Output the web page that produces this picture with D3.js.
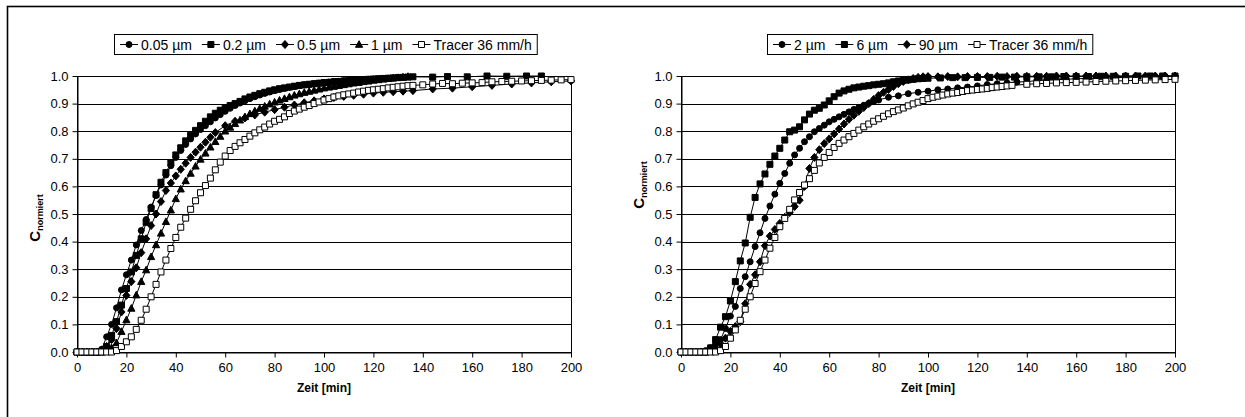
<!DOCTYPE html>
<html><head><meta charset="utf-8">
<script src="https://cdn.jsdelivr.net/npm/d3@7"></script>
<style>body{margin:0;background:#fff} svg text{font-family:"Liberation Sans",Arial,sans-serif;fill:#000}</style>
</head><body><svg id="c" width="1245" height="417"></svg>
<script>
// ---------- data (time in min, normalised concentration) ----------
const xTicks = [0,20,40,60,80,100,120,140,160,180,200];
const yTicks = [0,0.1,0.2,0.3,0.4,0.5,0.6,0.7,0.8,0.9,1.0];
const legendLeft = ["0.05 µm","0.2 µm","0.5 µm","1 µm","Tracer 36 mm/h"];
const legendRight = ["2 µm","6 µm","90 µm","Tracer 36 mm/h"];
const xTitle = "Zeit [min]";

const tracerL = [[0,0],[2,0],[4,0],[6,0],[8,0],[10,0],[12,0],[14,0],[16,0.005],[18,0.02],[20,0.037],[22,0.055],[24,0.082],[26,0.115],[28,0.155],[30,0.2],[32,0.245],[34,0.29],[36,0.333],[38,0.375],[40,0.415],[42,0.452],[44,0.485],[46,0.517],[48,0.548],[50,0.577],[52,0.603],[54,0.63],[56,0.66],[58,0.688],[60,0.71],[62,0.73],[64,0.745],[66,0.758],[68,0.77],[70,0.782],[72,0.794],[74,0.805],[76,0.815],[78,0.826],[80,0.836],[82,0.843],[84,0.852],[86,0.864],[88,0.873],[90,0.88],[92,0.887],[94,0.893],[96,0.9],[98,0.906],[100,0.913],[102,0.918],[104,0.924],[106,0.928],[108,0.932],[110,0.935],[112,0.938],[114,0.942],[116,0.945],[118,0.948],[120,0.95],[122,0.952],[124,0.954],[126,0.957],[128,0.959],[130,0.961],[132,0.963],[134,0.965],[136,0.966],[140,0.968],[144,0.971],[148,0.973],[152,0.972],[156,0.974],[160,0.975],[164,0.976],[168,0.979],[172,0.98],[176,0.981],[180,0.982],[184,0.983],[188,0.984],[192,0.985],[196,0.986],[200,0.987]];

const p005 = [[0,0],[2,0],[4,0],[6,0],[8,0],[10,0.01],[12,0.055],[14,0.1],[16,0.16],[18,0.225],[20,0.28],[22,0.333],[24,0.388],[26,0.44],[28,0.48],[30,0.525],[32,0.567],[34,0.605],[36,0.641],[38,0.675],[40,0.705],[42,0.73],[44,0.752],[46,0.772],[48,0.79],[50,0.806],[52,0.82],[54,0.834],[56,0.848],[58,0.86],[60,0.872],[62,0.883],[64,0.893],[66,0.902],[68,0.91],[70,0.918],[72,0.925],[74,0.931],[76,0.937],[78,0.942],[80,0.947],[82,0.951],[84,0.955],[86,0.959],[88,0.962],[90,0.965],[92,0.968],[94,0.97],[96,0.972],[98,0.974],[100,0.976],[102,0.978],[104,0.98],[106,0.981],[108,0.983],[110,0.984],[112,0.985],[114,0.986],[116,0.987],[118,0.988],[120,0.989],[122,0.99],[124,0.991],[126,0.992],[128,0.993],[130,0.994]];

const p02 = [[0,0],[2,0],[4,0],[6,0],[8,0],[10,0],[12,0.02],[14,0.06],[16,0.11],[18,0.17],[20,0.23],[22,0.29],[24,0.35],[26,0.41],[28,0.47],[30,0.52],[32,0.57],[34,0.615],[36,0.65],[38,0.685],[40,0.714],[42,0.74],[44,0.765],[46,0.785],[48,0.803],[50,0.82],[52,0.836],[54,0.852],[56,0.865],[58,0.876],[60,0.885],[62,0.893],[64,0.9],[66,0.908],[68,0.917],[70,0.924],[72,0.93],[74,0.936],[76,0.941],[78,0.946],[80,0.95],[82,0.954],[84,0.957],[86,0.96],[88,0.963],[90,0.966],[92,0.968],[94,0.97],[96,0.972],[98,0.974],[100,0.976],[102,0.977],[104,0.979],[106,0.98],[108,0.982],[110,0.983],[112,0.985],[114,0.986],[116,0.987],[118,0.988],[120,0.989],[122,0.99],[124,0.991],[126,0.992],[128,0.993],[130,0.994],[132,0.995],[134,0.996],[136,0.997],[144,0.996],[150,0.998],[158,0.997],[166,1.0],[174,0.999],[182,1.0],[188,1.0]];

const p05 = [[0,0],[2,0],[4,0],[6,0],[8,0],[10,0.005],[12,0.02],[14,0.045],[16,0.085],[18,0.145],[20,0.205],[22,0.255],[24,0.305],[26,0.36],[28,0.41],[30,0.458],[32,0.5],[34,0.545],[36,0.585],[38,0.612],[40,0.638],[42,0.662],[44,0.684],[46,0.705],[48,0.724],[50,0.742],[52,0.76],[54,0.778],[56,0.795],[60,0.82],[64,0.836],[68,0.848],[72,0.859],[76,0.869],[80,0.878],[84,0.887],[88,0.895],[92,0.903],[96,0.91],[100,0.917],[104,0.922],[108,0.926],[112,0.93],[116,0.934],[120,0.938],[124,0.941],[128,0.943],[132,0.945],[136,0.947],[144,0.953],[152,0.956],[160,0.961],[168,0.966],[176,0.971],[184,0.975],[192,0.979],[200,0.982]];

const p1 = [[0,0],[2,0],[4,0],[6,0],[8,0],[10,0],[12,0.005],[14,0.015],[16,0.033],[18,0.074],[20,0.116],[22,0.158],[24,0.206],[26,0.255],[28,0.297],[30,0.345],[32,0.388],[34,0.43],[36,0.472],[38,0.514],[40,0.555],[42,0.59],[44,0.62],[46,0.647],[48,0.673],[50,0.698],[52,0.72],[54,0.742],[56,0.762],[58,0.781],[60,0.8],[62,0.814],[64,0.827],[66,0.84],[68,0.852],[70,0.863],[72,0.873],[74,0.882],[76,0.89],[78,0.898],[80,0.905],[82,0.912],[84,0.918],[86,0.924],[88,0.93],[90,0.935],[92,0.94],[94,0.944],[96,0.948],[98,0.952],[100,0.956],[102,0.959],[104,0.962],[106,0.965],[108,0.968],[110,0.971],[112,0.974],[114,0.976],[116,0.979],[118,0.981],[120,0.984],[122,0.986],[124,0.988],[126,0.99],[128,0.992],[130,0.994],[132,0.996],[134,0.998]];

const tracerR = [[0,0],[2,0],[4,0],[6,0],[8,0],[10,0],[12,0],[14,0],[16,0.005],[18,0.02],[20,0.05],[22,0.08],[24,0.115],[26,0.155],[28,0.2],[30,0.248],[32,0.291],[34,0.333],[36,0.376],[38,0.415],[40,0.454],[42,0.484],[44,0.517],[46,0.551],[48,0.578],[50,0.605],[52,0.628],[54,0.658],[56,0.685],[58,0.705],[60,0.723],[62,0.741],[64,0.756],[66,0.768],[68,0.78],[70,0.792],[72,0.804],[74,0.816],[76,0.826],[78,0.836],[80,0.845],[82,0.854],[84,0.863],[86,0.871],[88,0.877],[90,0.884],[92,0.892],[94,0.899],[96,0.905],[98,0.911],[100,0.918],[102,0.923],[104,0.927],[106,0.931],[108,0.935],[110,0.938],[112,0.94],[114,0.944],[116,0.947],[118,0.949],[120,0.951],[122,0.953],[124,0.955],[126,0.958],[128,0.96],[130,0.962],[132,0.964],[134,0.966],[140,0.97],[144,0.972],[148,0.973],[152,0.975],[156,0.976],[160,0.977],[164,0.978],[168,0.98],[172,0.981],[176,0.982],[180,0.983],[184,0.984],[188,0.985],[192,0.986],[196,0.987],[200,0.988]];

const p2 = [[0,0],[2,0],[4,0],[6,0],[8,0],[10,0.005],[12,0.015],[14,0.03],[16,0.045],[18,0.085],[20,0.13],[22,0.165],[24,0.23],[26,0.273],[28,0.327],[30,0.382],[32,0.432],[34,0.484],[36,0.529],[38,0.572],[40,0.611],[42,0.647],[44,0.684],[46,0.714],[48,0.738],[50,0.762],[52,0.78],[54,0.798],[56,0.81],[58,0.822],[60,0.834],[62,0.843],[64,0.852],[66,0.861],[68,0.87],[70,0.879],[72,0.886],[74,0.894],[76,0.901],[78,0.907],[80,0.913],[84,0.923],[88,0.928],[92,0.936],[96,0.941],[100,0.945],[104,0.95],[108,0.953],[112,0.957],[116,0.96],[120,0.964],[124,0.969],[128,0.972],[132,0.975],[136,0.978],[140,0.98],[144,0.983],[148,0.985],[152,0.987],[156,0.988],[160,0.99],[164,0.991],[168,0.992],[172,0.993],[176,0.994],[180,0.995],[184,0.996],[188,0.997],[192,0.998],[196,0.999],[200,1.0]];

const p6 = [[0,0],[2,0],[4,0],[6,0],[8,0],[10,0],[12,0.015],[14,0.045],[16,0.09],[18,0.128],[20,0.185],[22,0.255],[24,0.33],[26,0.395],[28,0.488],[30,0.56],[32,0.609],[34,0.645],[36,0.68],[38,0.71],[40,0.738],[42,0.768],[44,0.798],[46,0.804],[48,0.816],[50,0.841],[52,0.862],[54,0.876],[56,0.883],[58,0.895],[60,0.91],[62,0.925],[64,0.938],[66,0.946],[68,0.952],[70,0.957],[72,0.96],[74,0.963],[76,0.965],[78,0.968],[80,0.97],[82,0.972],[84,0.975],[86,0.979],[88,0.982],[90,0.984],[92,0.986],[94,0.988],[96,0.99],[98,0.991],[100,0.992],[105,0.993],[110,0.994],[115,0.994],[120,0.995],[125,0.995],[130,0.996],[135,0.996],[140,0.997],[145,0.997],[150,0.997],[155,0.998],[160,0.998],[165,0.998],[170,0.999],[175,0.999],[180,0.999],[185,1.0],[190,1.0],[195,1.0],[200,1.0]];

const p90 = [[0,0],[2,0],[4,0],[6,0],[8,0],[10,0],[12,0.005],[14,0.015],[16,0.03],[18,0.05],[20,0.075],[22,0.092],[24,0.11],[26,0.175],[28,0.245],[30,0.28],[32,0.327],[34,0.385],[36,0.42],[38,0.444],[40,0.466],[42,0.488],[44,0.505],[46,0.527],[48,0.55],[50,0.6],[52,0.665],[54,0.705],[56,0.733],[58,0.755],[60,0.772],[62,0.79],[64,0.808],[66,0.826],[68,0.843],[70,0.858],[72,0.872],[74,0.886],[76,0.9],[78,0.915],[80,0.929],[82,0.941],[84,0.951],[86,0.962],[88,0.972],[90,0.98],[92,0.986],[94,0.991],[96,0.995],[98,0.997],[100,0.998],[104,0.997],[108,0.998],[112,0.997],[116,0.998],[120,0.998],[124,0.998],[128,0.999],[132,0.998],[136,0.999],[140,0.999],[144,0.999],[148,0.999],[152,1.0],[156,1.0],[160,1.0],[164,1.0],[168,1.0],[172,1.0],[176,1.0],[180,1.0],[184,1.0],[188,1.0],[192,1.0],[196,1.0],[200,1.0]];

// ---------- drawing ----------
const svg = d3.select("#c");
svg.append("rect").attr("x",7.5).attr("y",6.5).attr("width",1400).attr("height",600)
  .attr("fill","none").attr("stroke","#000").attr("stroke-width",1.6);

function markerPath(type){
  const p = d3.path();
  if(type==="circle"){ p.arc(0,0,3,0,2*Math.PI); }
  else if(type==="square"||type==="open"){ p.rect(-3,-3,6,6); }
  else if(type==="diamond"){ p.moveTo(0,-4); p.lineTo(3.6,0); p.lineTo(0,4); p.lineTo(-3.6,0); p.closePath(); }
  else if(type==="triangle"){ p.moveTo(0,-3.8); p.lineTo(3.6,2.8); p.lineTo(-3.6,2.8); p.closePath(); }
  return p.toString();
}
function styleMarker(sel,type){
  sel.attr("d",markerPath(type))
     .attr("fill", type==="open" ? "#fff" : "#000")
     .attr("stroke","#000").attr("stroke-width",1);
}

function drawChart(cfg){
  const g = svg.append("g");
  const x = d3.scaleLinear().domain([0,200]).range([cfg.x0,cfg.x1]);
  const y = d3.scaleLinear().domain([0,1]).range([352,76]);
  // gridlines
  g.append("g").selectAll("line").data(yTicks).join("line")
    .attr("x1",cfg.x0).attr("x2",cfg.x1)
    .attr("y1",d=>Math.round(y(d))+0.5).attr("y2",d=>Math.round(y(d))+0.5)
    .attr("stroke","#000").attr("stroke-width",1);
  // plot border
  g.append("rect").attr("x",cfg.x0+0.5).attr("y",Math.round(y(1))+0.5)
    .attr("width",cfg.x1-cfg.x0).attr("height",Math.round(y(0))-Math.round(y(1)))
    .attr("fill","none").attr("stroke","#000");
  // axes
  const ax = g.append("g").attr("transform",`translate(0,${Math.round(y(0))+0.5})`)
    .call(d3.axisBottom(x).tickValues(xTicks).tickFormat(d3.format("d")).tickSizeInner(5).tickSizeOuter(0).tickPadding(5));
  const ay = g.append("g").attr("transform",`translate(${cfg.x0+0.5},0)`)
    .call(d3.axisLeft(y).tickValues(yTicks).tickFormat(d3.format(".1f")).tickSizeInner(5).tickSizeOuter(0).tickPadding(4));
  [ax,ay].forEach(a=>{
    a.selectAll("path,line").attr("stroke","#000");
    a.selectAll("text").attr("font-size",13).attr("font-family","Liberation Sans, Arial, sans-serif").attr("fill","#000");
  });
  // titles
  g.append("text").attr("x",(cfg.x0+cfg.x1)/2).attr("y",392).attr("text-anchor","middle")
    .attr("font-size",12).attr("font-weight","bold").text(xTitle);
  const yt = g.append("text").attr("transform",`translate(${cfg.ytx},${cfg.yty}) rotate(-90)`)
    .attr("text-anchor","middle").attr("font-weight","bold");
  yt.append("tspan").attr("font-size",15).text("C");
  yt.append("tspan").attr("font-size",9).attr("dy",3).text("normiert");
  // series
  const line = d3.line().x(d=>x(d[0])).y(d=>y(d[1]));
  cfg.series.forEach(s=>{
    const sg = g.append("g");
    sg.append("path").datum(s.data).attr("d",line).attr("fill","none").attr("stroke","#000").attr("stroke-width",1);
    sg.selectAll("path.m").data(s.data).join("path").attr("class","m")
      .attr("transform",d=>`translate(${x(d[0])},${y(d[1])})`)
      .call(styleMarker,s.type);
  });
  // legend
  const lg = g.append("g");
  const box = lg.append("rect").attr("y",34.5).attr("height",20).attr("fill","#fff").attr("stroke","#000");
  let cx = cfg.lx + 6;
  cfg.series.forEach((s,i)=>{
    lg.append("line").attr("x1",cx).attr("x2",cx+18).attr("y1",44.5).attr("y2",44.5).attr("stroke","#000");
    lg.append("path").attr("transform",`translate(${cx+9},44.5)`).call(styleMarker,s.type);
    const t = lg.append("text").attr("x",cx+21).attr("y",49.5).attr("font-size",14).text(cfg.labels[i]);
    cx += 21 + t.node().getComputedTextLength() + 10;
  });
  box.attr("x",cfg.lx+0.5).attr("width",cx - 10 + 5 - cfg.lx);
}

drawChart({x0:77,x1:571,lx:114,ytx:40,yty:218,labels:legendLeft,
  series:[{data:p005,type:"circle"},{data:p02,type:"square"},{data:p05,type:"diamond"},{data:p1,type:"triangle"},{data:tracerL,type:"open"}]});
drawChart({x0:681,x1:1175,lx:767,ytx:644,yty:185,labels:legendRight,
  series:[{data:p2,type:"circle"},{data:p6,type:"square"},{data:p90,type:"diamond"},{data:tracerR,type:"open"}]});
</script></body></html>
